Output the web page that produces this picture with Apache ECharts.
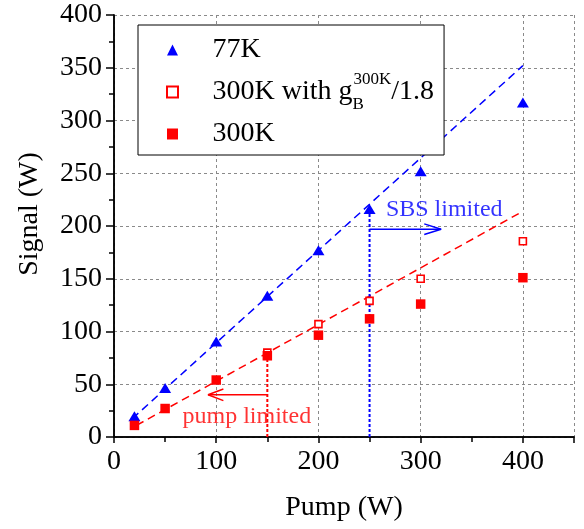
<!DOCTYPE html>
<html>
<head>
<meta charset="utf-8">
<script src="https://cdn.jsdelivr.net/npm/echarts@6/dist/echarts.min.js"></script>
<style>
html,body{margin:0;padding:0;background:#fff;}
#chart{width:584px;height:529px;}
</style>
</head>
<body>
<div id="chart"></div>
<script>
// ---- data ----
const pump = [20, 50, 100, 150, 200, 250, 300, 400];
const signal77K = [19.6, 46.5, 90.5, 134, 177, 216, 252, 317];
const pumpScaled = [150, 200, 250, 300, 400];
const signal300KScaled = [80, 107, 129, 150, 185.5];
const signal300K = [11, 27, 54, 77, 96.5, 112, 126, 151];
const fit77KX = [18, 400];
const fit77KY = [17.5, 352];
const fit300KX = [22, 400];
const fit300KY = [11, 214];
const xTicks = [0, 100, 200, 300, 400];
const yTicks = [0, 50, 100, 150, 200, 250, 300, 350, 400];
// annotations (data space)
const sbsLine = [[250, 0], [250, 216]];
const sbsArrow = [[250, 197], [320, 197]];
const sbsHead = [[303.5, 202], [320, 197], [303.5, 192]];
const pumpLine = [[150, 0], [150, 75]];
const pumpArrow = [[150, 40], [92, 40]];
const pumpHead = [[107, 45.5], [92, 40], [107, 34.5]];
const notes = [
  {name: 'SBS limited', value: [266, 215], color: '#0000ff'},
  {name: 'pump limited', value: [67, 19.5], color: '#ff0000'}
];
const seriesNames = ['77K', '300K with gB300K/1.8', '300K'];

const zip = (xs, ys) => xs.map((x, i) => [x, ys[i]]);
const FONT = 'Liberation Serif';
const BLUE = '#0000ff', RED = '#ff0000';

const chart = echarts.init(document.getElementById('chart'), null, {renderer: 'canvas'});

function lineSeries(data, color, type, width, z) {
  return {
    type: 'line', data: data, symbol: 'none', silent: true, z: z || 2,
    lineStyle: {color: color, width: width, type: type},
    animation: false
  };
}

const axisCommon = {
  type: 'value',
  axisLine: {show: true, lineStyle: {color: '#000', width: 1.5}},
  splitLine: {show: false}
};

chart.setOption({
  animation: false,
  backgroundColor: '#fff',
  grid: {left: 114, right: 10, top: 15, bottom: 92, containLabel: false},
  legend: {
    data: seriesNames,
    orient: 'vertical',
    left: 138, top: 25,
    itemWidth: 11, itemHeight: 11, itemGap: 0,
    padding: [4, 10, 0, 28],
    borderColor: '#000', borderWidth: 1,
    backgroundColor: '#fff',
    selectedMode: false,
    formatter: function (name) {
      if (name === seriesNames[1]) {
        return '{f|300K with g}{sub|B}{sup|300K}{m|/1.8}';
      }
      return '{f|' + name + '}';
    },
    textStyle: {
      color: '#000', fontFamily: FONT, fontSize: 28, lineHeight: 42,
      rich: {
        f: {fontFamily: FONT, fontSize: 28, lineHeight: 42, color: '#000', verticalAlign: 'middle', padding: [0, 0, 0, 29.5]},
        m: {fontFamily: FONT, fontSize: 28, lineHeight: 42, color: '#000', verticalAlign: 'middle'},
        sup: {fontFamily: FONT, fontSize: 17, lineHeight: 17, color: '#000', verticalAlign: 'top', padding: [0, 0, 2, 0]},
        sub: {fontFamily: FONT, fontSize: 17, lineHeight: 15, color: '#000', verticalAlign: 'bottom', width: 1}
      }
    }
  },
  xAxis: [
    Object.assign({}, axisCommon, {
      min: 0, max: 450, interval: 100, position: 'bottom',
      name: 'Pump (W)', nameLocation: 'middle', nameGap: 57,
      nameTextStyle: {fontFamily: FONT, fontSize: 28, color: '#000'},
      axisTick: {show: true, inside: false, length: 6, lineStyle: {color: '#000', width: 1.5}},
      minorTick: {show: true, splitNumber: 2, length: 5, lineStyle: {color: '#000', width: 1.5}},
      axisLabel: {
        fontFamily: FONT, fontSize: 28, color: '#000', margin: 11,
        showMaxLabel: false,
        formatter: v => (xTicks.indexOf(v) >= 0 ? String(v) : '')
      },
      splitLine: {show: true, lineStyle: {color: '#8a8a8a', width: 1, type: [3, 3]}}
    }),
    Object.assign({}, axisCommon, {
      min: 0, max: 450, interval: 100, position: 'top',
      axisTick: {show: true, inside: true, length: 6, lineStyle: {color: '#000', width: 1.5}},
      minorTick: {show: true, splitNumber: 2, length: 5, lineStyle: {color: '#000', width: 1.5}},
      axisLabel: {show: false}
    })
  ],
  yAxis: [
    Object.assign({}, axisCommon, {
      min: 0, max: 400, interval: 50, position: 'left',
      name: 'Signal (W)', nameLocation: 'middle', nameGap: 70,
      nameTextStyle: {fontFamily: FONT, fontSize: 28, color: '#000', padding: [0, 0, 0, 24]},
      axisTick: {show: true, inside: false, length: 8, lineStyle: {color: '#000', width: 1.5}},
      minorTick: {show: true, splitNumber: 2, length: 5, lineStyle: {color: '#000', width: 1.5}},
      axisLabel: {
        fontFamily: FONT, fontSize: 28, color: '#000', margin: 12,
        formatter: v => (yTicks.indexOf(v) >= 0 ? String(v) : '')
      },
      splitLine: {show: true, lineStyle: {color: '#8a8a8a', width: 1, type: [3, 3]}}
    }),
    Object.assign({}, axisCommon, {
      min: 0, max: 400, interval: 50, position: 'right',
      axisTick: {show: true, inside: true, length: 6, lineStyle: {color: '#000', width: 1.5}},
      minorTick: {show: true, splitNumber: 2, length: 5, lineStyle: {color: '#000', width: 1.5}},
      axisLabel: {show: false}
    })
  ],
  series: [
    lineSeries(zip(fit77KX, fit77KY), BLUE, [8, 5], 1.5),
    lineSeries(zip(fit300KX, fit300KY), RED, [8, 5], 1.5),
    lineSeries(sbsLine, BLUE, [3, 2], 2),
    lineSeries(sbsArrow, BLUE, 'solid', 1.5),
    lineSeries(sbsHead, BLUE, 'solid', 1.5),
    lineSeries(pumpLine, RED, [3, 2], 2),
    lineSeries(pumpArrow, RED, 'solid', 1.5),
    lineSeries(pumpHead, RED, 'solid', 1.5),
    {
      name: seriesNames[0], type: 'scatter', z: 5,
      symbol: 'triangle', symbolSize: [12, 10],
      itemStyle: {color: BLUE, opacity: 1},
      data: zip(pump, signal77K)
    },
    {
      name: seriesNames[1], type: 'scatter', z: 5,
      symbol: 'rect', symbolSize: 7,
      itemStyle: {color: '#fff', borderColor: RED, borderWidth: 1.6, opacity: 1},
      data: zip(pumpScaled, signal300KScaled)
    },
    {
      name: seriesNames[2], type: 'scatter', z: 6,
      symbol: 'rect', symbolSize: 9.5,
      itemStyle: {color: RED, opacity: 1},
      data: zip(pump, signal300K)
    },
    {
      type: 'scatter', silent: true, symbolSize: 0, z: 7,
      data: notes.map(n => ({
        name: n.name, value: n.value,
        label: {
          show: true, position: [0, 0], align: 'left', verticalAlign: 'middle',
          formatter: '{b}', color: n.color, fontFamily: FONT, fontSize: 24
        }
      }))
    }
  ]
});
</script>
</body>
</html>
